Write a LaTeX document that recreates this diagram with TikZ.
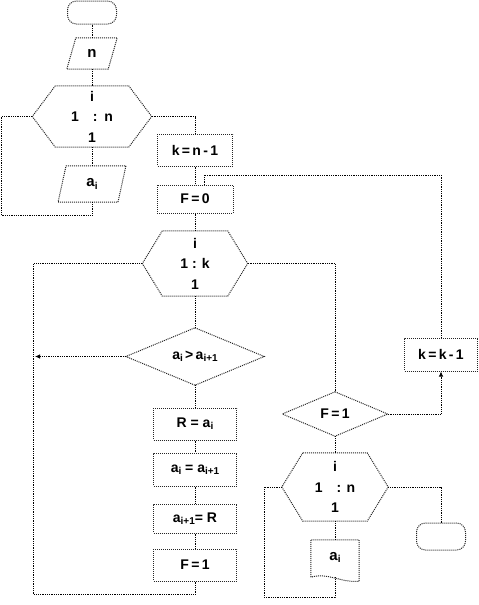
\documentclass[tikz,border=0pt]{standalone}
\usepackage{fontspec}
\setmainfont{Liberation Sans}
\usetikzlibrary{arrows.meta}
\newcommand\sbs[1]{\raisebox{-0.3ex}{\fontsize{10}{10}\selectfont #1}}
\begin{document}
\begin{tikzpicture}[x=1pt,y=-1pt,
  conn/.style={densely dotted, line width=0.8pt},
  shp/.style={draw=black!85, densely dotted, line width=1pt},
  txt/.style={inner sep=0pt, font=\fontsize{14}{20.5}\selectfont\bfseries, align=center},
  boxn/.style={txt, shp, rectangle},
  term/.style={shp, rectangle, rounded corners=9pt, inner sep=0pt},
  arr/.style={-{Latex[length=5pt,width=4.5pt]}}
]
\useasboundingbox (0,0) rectangle (479,605);

% column 1
\node[term, minimum width=49, minimum height=23] (start) at (92,12.5) {};
\node[txt, minimum width=41, minimum height=31, font=\fontsize{15}{16}\selectfont\bfseries] (pn) at (92,53.5) {n};
\draw[shp] ([xshift=4.5]pn.north west) -- ([xshift=4.5]pn.north east) -- ([xshift=-4.5]pn.south east) -- ([xshift=-4.5]pn.south west) -- cycle;
\node[txt, minimum width=73, minimum height=61] (h1) at (92,116.5) {i\\1\enspace\enspace:\enspace n\\1};
\coordinate (h1l) at ([xshift=-23]h1.west);
\coordinate (h1r) at ([xshift=23]h1.east);
\draw[shp] (h1.north west) -- (h1l) -- (h1.south west) -- (h1.south east) -- (h1r) -- (h1.north east) -- cycle;
\node[txt, minimum width=59.5, minimum height=36, font=\fontsize{15}{16}\selectfont\bfseries] (pai) at (92,184) {a\sbs{i}};
\draw[shp] ([xshift=4]pai.north west) -- ([xshift=4]pai.north east) -- ([xshift=-4]pai.south east) -- ([xshift=-4]pai.south west) -- cycle;

% column 2
\node[boxn, minimum width=75, minimum height=32] (knm) at (195,150) {k\,=\,n\,-\,1};
\node[boxn, minimum width=76, minimum height=28] (f0) at (195,199) {F\,=\,0};
\node[txt, minimum width=65, minimum height=65] (h2) at (195,263.5) {i\\1 : k\\1};
\coordinate (h2l) at ([xshift=-20]h2.west);
\coordinate (h2r) at ([xshift=20]h2.east);
\draw[shp] (h2.north west) -- (h2l) -- (h2.south west) -- (h2.south east) -- (h2r) -- (h2.north east) -- cycle;
\node[txt, minimum width=138, minimum height=57] (d1) at (195,356.5) {a\sbs{i}\,>\,a\sbs{i+1}};
\draw[shp] (d1.north) -- (d1.east) -- (d1.south) -- (d1.west) -- cycle;
\node[boxn, minimum width=83, minimum height=32] (R) at (195,424) {R = a\sbs{i}};
\node[boxn, minimum width=83, minimum height=33] (ai) at (195,469.5) {a\sbs{i} = a\sbs{i+1}};
\node[boxn, minimum width=83, minimum height=29] (ai1) at (195,518.5) {a\sbs{i+1}= R};
\node[boxn, minimum width=83, minimum height=32] (f1) at (195,565) {F\,=\,1};

% column 3
\node[txt, minimum width=105, minimum height=44] (d2) at (335,414) {F\,=\,1};
\draw[shp] (d2.north) -- (d2.east) -- (d2.south) -- (d2.west) -- cycle;
\node[txt, minimum width=64, minimum height=68] (h3) at (335,487) {i\\1\enspace\enspace: n\\1};
\coordinate (h3l) at ([xshift=-21]h3.west);
\coordinate (h3r) at ([xshift=21]h3.east);
\draw[shp] (h3.north west) -- (h3l) -- (h3.south west) -- (h3.south east) -- (h3r) -- (h3.north east) -- cycle;
\node[txt, minimum width=48, minimum height=35, font=\fontsize{15}{16}\selectfont\bfseries] (doc) at (335,557.5) {a\sbs{i}};
\draw[shp] ([yshift=-2]doc.south west) -- (doc.north west) -- (doc.north east) -- ([yshift=-6]doc.south east)
  .. controls ([xshift=-18,yshift=-8]doc.south east) and ([xshift=18,yshift=3]doc.south west) .. ([yshift=-2]doc.south west);

% column 4
\node[boxn, minimum width=73, minimum height=33] (kk) at (441,354.5) {k\,=\,k\,-\,1};
\node[term, minimum width=49, minimum height=27] (end) at (441,536.5) {};

% connectors
\draw[conn] (start) -- (pn);
\draw[conn] (pn) -- (h1);
\draw[conn] (h1) -- (pai);
\draw[conn] (pai.south) -- ++(0,13) -| ([xshift=-31]h1l) -- (h1l);
\draw[conn] (h1r) -| (knm.north);
\draw[conn] (knm) -- (f0);
\draw[conn] (f0) -- (h2);
\draw[conn] (h2) -- (d1);
\draw[conn] (d1) -- (R);
\draw[conn] (R) -- (ai);
\draw[conn] (ai) -- (ai1);
\draw[conn] (ai1) -- (f1);
\coordinate (lp) at (35,356.5);
\draw[conn] (f1.south) -- ++(0,13) -| ([xshift=-108.5]h2l) -- (h2l);
\draw[conn,arr] (d1.west) -- (lp);
\draw[conn] (h2r) -| (d2.north);
\draw[conn,arr] (d2.east) -| (kk.south);
\coordinate (fj) at (204,175);
\draw[conn] (kk.north) |- (fj) -- (fj |- f0.north);
\draw[conn] (d2) -- (h3);
\draw[conn] (h3) -- (doc);
\draw[conn] ([yshift=-2]doc.south) -- (335,597) -| (264,487) -- (h3l);
\draw[conn] (h3r) -| (end.north);
\end{tikzpicture}
\end{document}
